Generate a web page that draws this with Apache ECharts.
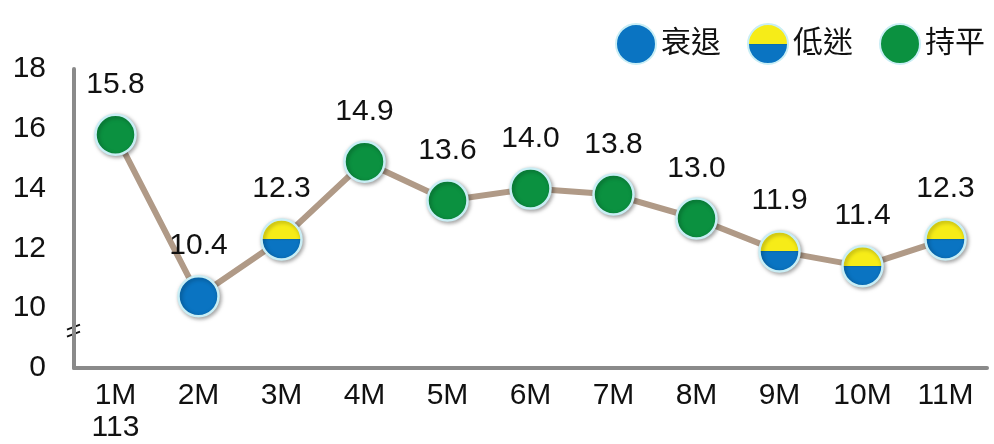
<!DOCTYPE html>
<html><head><meta charset="utf-8">
<script src="https://cdn.jsdelivr.net/npm/echarts@6/dist/echarts.min.js"></script>
<style>html,body{margin:0;padding:0;background:#fff}#c{width:994px;height:444px}</style>
</head><body><div id="c"></div>
<script>
var categories = ['1M','2M','3M','4M','5M','6M','7M','8M','9M','10M','11M'];
var values = [15.8,10.4,12.3,14.9,13.6,14.0,13.8,13.0,11.9,11.4,12.3];
var statuses = ['持平','衰退','低迷','持平','持平','持平','持平','持平','低迷','低迷','低迷'];
var yearLabel = '113';
var legendNames = ['衰退','低迷','持平'];

var BLUE = '#0a74c2', GREEN = '#0b9140', YELLOW = '#f6ec18';
function halfFill(){
  return {type:'linear',x:0,y:0,x2:0,y2:1,colorStops:[
    {offset:0,color:YELLOW},{offset:0.5,color:YELLOW},{offset:0.5,color:'#0a6aa8'},{offset:0.53,color:BLUE},{offset:1,color:BLUE}]};
}
var fills = {'衰退':BLUE,'低迷':halfFill(),'持平':GREEN};
var FONT = '"Liberation Sans","Noto Sans CJK TC",Arial,sans-serif';
var markerStyle = {opacity:1,borderColor:'#c9eef5',borderWidth:2.5,shadowBlur:4,shadowColor:'rgba(0,0,0,0.35)',shadowOffsetX:1.5,shadowOffsetY:1.5};

var lineData = values.map(function(v,i){
  return {value:v, itemStyle:Object.assign({color:fills[statuses[i]]},markerStyle)};
});

var chart = echarts.init(document.getElementById('c'));
var series = [{
  type:'line', data:lineData, symbol:'circle', symbolSize:40, z:3,
  lineStyle:{color:'#b09a87',width:6},
  label:{show:true,position:'top',distance:14,fontSize:30,color:'#111',fontFamily:FONT,
    formatter:function(p){return p.value.toFixed(1);}},
  emphasis:{disabled:true}
}];
legendNames.forEach(function(n){
  series.push({type:'scatter',name:n,data:[],itemStyle:Object.assign({color:fills[n]},markerStyle)});
});
chart.setOption({
  animation:false,
  grid:{left:74,right:7,top:69,bottom:74,containLabel:false},
  legend:{data:legendNames,right:4,top:18,icon:'circle',itemWidth:40,itemHeight:40,itemGap:26,
    textStyle:{fontSize:30,color:'#111',fontFamily:FONT}},
  xAxis:{type:'category',data:categories,boundaryGap:true,
    axisLine:{lineStyle:{color:'#8a8a8a',width:4}},axisTick:{show:false},
    axisLabel:{fontSize:30,color:'#111',fontFamily:FONT,margin:12,lineHeight:32,
      formatter:function(v,i){return i===0? v+'\n'+yearLabel : v;}}},
  yAxis:{type:'value',min:8,max:18,interval:2,
    axisLine:{show:true,lineStyle:{color:'#8a8a8a',width:4}},axisTick:{show:false},splitLine:{show:false},
    axisLabel:{fontSize:30,color:'#111',fontFamily:FONT,margin:28,
      formatter:function(v){return v===8?'0':String(v);}}},
  series:series
});
// axis break mark
var p = chart.convertToPixel({xAxisIndex:0,yAxisIndex:0},[0,9.35]);
var ax = 74;
chart.setOption({graphic:[
  {type:'line',shape:{x1:ax-7,y1:p[1]+2,x2:ax+6,y2:p[1]-3},style:{stroke:'#111',lineWidth:2}},
  {type:'line',shape:{x1:ax-7,y1:p[1]+9,x2:ax+6,y2:p[1]+4},style:{stroke:'#111',lineWidth:2}}
]});
</script></body></html>
